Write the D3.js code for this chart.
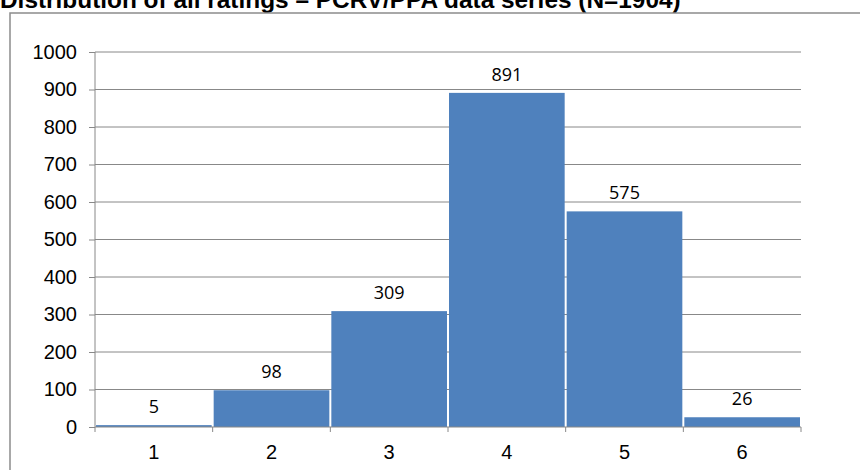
<!DOCTYPE html>
<html><head><meta charset="utf-8">
<script src="https://cdn.jsdelivr.net/npm/d3@7"></script>
<style>body{margin:0;background:#fff}</style>
</head><body>
<svg id="c" width="860" height="470"></svg>
<script>
const categories = ["1","2","3","4","5","6"];
const values = [5, 98, 309, 891, 575, 26];
const yTicks = [0,100,200,300,400,500,600,700,800,900,1000];
const title = "Distribution of all ratings – PCRV/PPA data series (N=1904)";

(function () {
const svg = d3.select("#c");
const mLeft = 95, mRight = 801, mTop = 52, mBottom = 427;
const axisFont = "Liberation Sans, Arial, sans-serif";

svg.append("text").attr("x", 0).attr("y", 7.5)
  .attr("font-family", axisFont)
  .attr("font-weight", "bold").attr("font-size", 24.4).attr("fill", "#000")
  .text(title);

svg.append("rect").attr("x", 10).attr("y", 13).attr("width", 860).attr("height", 470)
  .attr("fill", "none").attr("stroke", "#8c8c8c").attr("stroke-width", 1.5);

const x = d3.scaleBand().domain(categories).range([mLeft, mRight]).padding(0);
const y = d3.scaleLinear().domain([0, 1000]).range([mBottom, mTop]);

svg.append("g").selectAll("line").data(yTicks.filter(d => d > 0)).join("line")
  .attr("x1", mLeft).attr("x2", mRight)
  .attr("y1", d => y(d)).attr("y2", d => y(d))
  .attr("stroke", "#888").attr("stroke-width", 1);

svg.append("g").selectAll("rect").data(values).join("rect")
  .attr("x", (d, i) => x(categories[i]) + 1)
  .attr("width", x.bandwidth() - 2)
  .attr("y", d => y(d))
  .attr("height", d => y(0) - y(d))
  .attr("fill", "#4f81bd");

svg.append("g").selectAll("text").data(values).join("text")
  .attr("x", (d, i) => x(categories[i]) + x.bandwidth() / 2)
  .attr("y", d => y(d) - 12)
  .attr("text-anchor", "middle")
  .attr("font-family", "Open Sans, sans-serif").attr("font-size", 18).attr("fill", "#000")
  .text(d => d);

const ya = svg.append("g").attr("transform", `translate(${mLeft},0)`)
  .call(d3.axisLeft(y).tickValues(yTicks).tickFormat(d3.format("d")).tickSize(6).tickPadding(12));
ya.select(".domain").attr("stroke", "#888").attr("d", `M0,${mBottom}V${mTop}`);
ya.selectAll(".tick line").attr("stroke", "#888");
ya.selectAll("text").attr("font-family", axisFont).attr("font-size", 20).attr("fill", "#000");

const xa = svg.append("g").attr("transform", `translate(0,${mBottom})`)
  .call(d3.axisBottom(x).tickSize(0).tickPadding(18));
xa.select(".domain").attr("stroke", "#888").attr("d", `M${mLeft},0H${mRight}`);
xa.selectAll("text").attr("font-family", axisFont).attr("font-size", 20).attr("fill", "#000");
svg.append("g").selectAll("line").data(categories.concat(["end"])).join("line")
  .attr("x1", (d, i) => mLeft + i * x.bandwidth()).attr("x2", (d, i) => mLeft + i * x.bandwidth())
  .attr("y1", mBottom).attr("y2", mBottom + 5)
  .attr("stroke", "#888");
})();
</script>
</body></html>
